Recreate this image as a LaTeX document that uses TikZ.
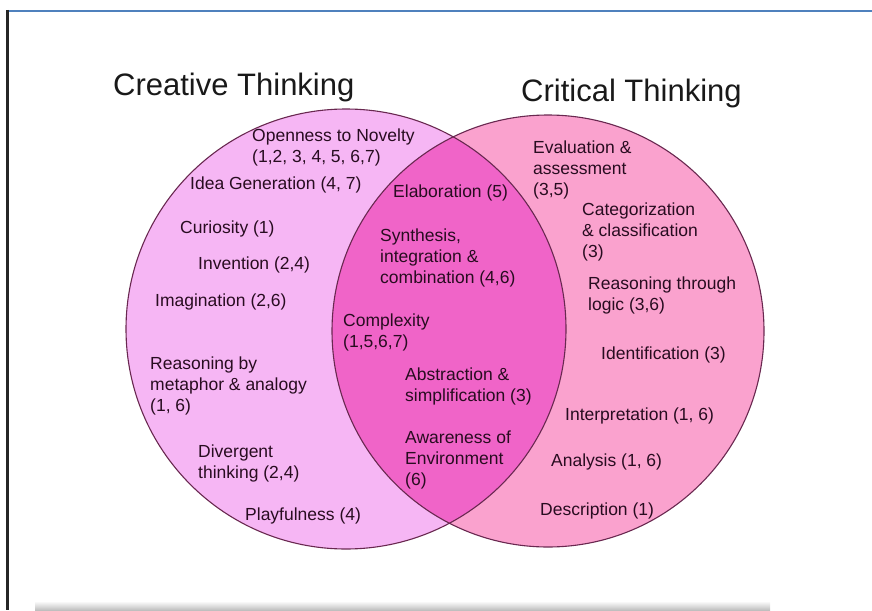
\documentclass[tikz,border=0pt]{standalone}
\usepackage{fontspec}
\setmainfont{Liberation Sans}
\usepackage{tikz}
\usetikzlibrary{positioning}

\definecolor{creafill}{RGB}{246,182,244}
\definecolor{critfill}{RGB}{250,162,206}
\definecolor{bothfill}{RGB}{240,100,200}
\definecolor{rimline}{RGB}{105,40,80}
\definecolor{itemtext}{RGB}{40,12,32}
\definecolor{framblue}{RGB}{79,129,189}

\begin{document}
\begin{tikzpicture}[
    x=1pt,
    y=-1pt,
    font=\fontsize{17.5}{21}\selectfont,
    item/.style={
		anchor=west,
		inner sep=0pt,
		align=left,
		text=itemtext
	},
	title/.style={
		anchor=west,
		inner sep=0pt,
		font=\fontsize{31}{36}\selectfont,
		text=black!90
	},
	rim/.style={
		draw=rimline,
		line width=1.1pt
	}
  ]

\useasboundingbox (0,0) rectangle (872,610);

% // frame
\draw [framblue, line width=2pt] (8,11) -- (872,11);
\draw [black!85, line width=3pt] (7,10) -- (7,610);
\shade [top color=white, bottom color=black!25] (35,601) rectangle (770,610);

% // the circles
\fill [creafill] (346,329) circle (220);
\fill [critfill] (548,331) circle (216);
\begin{scope}
 \clip (346,329) circle (220);
 \fill [bothfill] (548,331) circle (216);
\end{scope}
\draw [rim] (346,329) circle (220);
\draw [rim] (548,331) circle (216);

% // titles
\node [title] (crea) at (113,87) {Creative Thinking};
\node [title] (crit) at (521,93) {Critical Thinking};

% // creative thinking
\node [item] (open) at (252,147) {Openness to Novelty\\(1,2, 3, 4, 5, 6,7)};
\node [item] (idea) at (190,185) {Idea Generation (4, 7)};
\node [item] (curio) at (180,229) {Curiosity (1)};
\node [item] (invent) at (198,265) {Invention (2,4)};
\node [item] (imagin) at (155,302) {Imagination (2,6)};
\node [item] (metaph) at (150,386) {Reasoning by\\metaphor \& analogy\\(1, 6)};
\node [item] (diverg) at (198,463) {Divergent\\thinking (2,4)};
\node [item] (play) at (245,516) {Playfulness (4)};

% // both
\node [item] (elab) at (393,193) {Elaboration (5)};
\node [item] (synth) at (380,258) {Synthesis,\\integration \&\\combination (4,6)};
\node [item] (complex) at (343,332) {Complexity\\(1,5,6,7)};
\node [item] (abstr) at (405,386) {Abstraction \&\\simplification (3)};
\node [item] (aware) at (405,460) {Awareness of\\Environment\\(6)};

% // critical thinking
\node [item] (evalu) at (533,170) {Evaluation \&\\assessment\\(3,5)};
\node [item] (categ) at (582,232) {Categorization\\\& classification\\(3)};
\node [item] (logic) at (588,295) {Reasoning through\\logic (3,6)};
\node [item] (ident) at (601,355) {Identification (3)};
\node [item] (interp) at (565,416) {Interpretation (1, 6)};
\node [item] (analys) at (551,462) {Analysis (1, 6)};
\node [item] (descr) at (540,511) {Description (1)};

\end{tikzpicture}
\end{document}
